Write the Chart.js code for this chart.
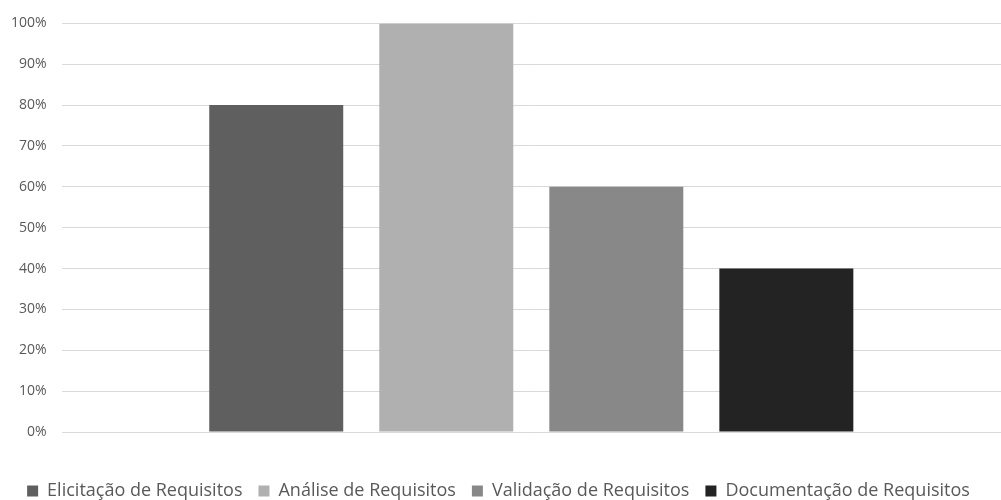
<!DOCTYPE html>
<html>
<head>
<meta charset="utf-8">
<script src="https://cdn.jsdelivr.net/npm/chart.js@4"></script>
<style>
  body { margin: 0; background: #fff; }
  #wrap { width: 1001px; height: 500px; }
</style>
</head>
<body>
<div id="wrap"><canvas id="chart"></canvas></div>
<script>
// one category, one series per activity
const categories = [''];
const seriesNames = ['Elicitação de Requisitos', 'Análise de Requisitos', 'Validação de Requisitos', 'Documentação de Requisitos'];
const seriesValues = [[80], [100], [60], [40]];
const seriesColors = ['#5f5f5f', '#b0b0b0', '#888888', '#232323'];

const ctx = document.getElementById('chart').getContext('2d');
const chart = new Chart(ctx, {
    type: 'bar',
    data: {
        labels: categories,
        datasets: seriesNames.map((name, i) => ({
            label: name,
            data: seriesValues[i],
            backgroundColor: seriesColors[i],
            categoryPercentage: 0.724,
            barPercentage: 0.788,
        })),
    },
    options: {
        responsive: true,
        maintainAspectRatio: false,
        animation: false,
        layout: { padding: { top: 13, right: 0, left: -4, bottom: -10 } },
        plugins: {
            tooltip: { enabled: false },
            legend: {
                position: 'bottom',
                // empty title only adds space between axis and legend
                title: { display: true, text: '', font: { size: 10, lineHeight: 1 }, padding: 8 },
                labels: {
                    boxWidth: 11,
                    boxHeight: 11,
                    padding: 16,
                    color: '#595959',
                    font: { family: 'Open Sans', size: 18 },
                },
            },
        },
        scales: {
            x: {
                grid: { display: false },
                border: { display: false },
                ticks: { display: false },
            },
            y: {
                min: 0,
                max: 100,
                ticks: {
                    stepSize: 10,
                    color: '#595959',
                    padding: 15,
                    font: { family: 'Open Sans', size: 14 },
                    callback: v => v + '%',
                },
                grid: { color: '#d9d9d9', drawTicks: false },
                border: { display: false },
            },
        },
    },
});
</script>
</body>
</html>
